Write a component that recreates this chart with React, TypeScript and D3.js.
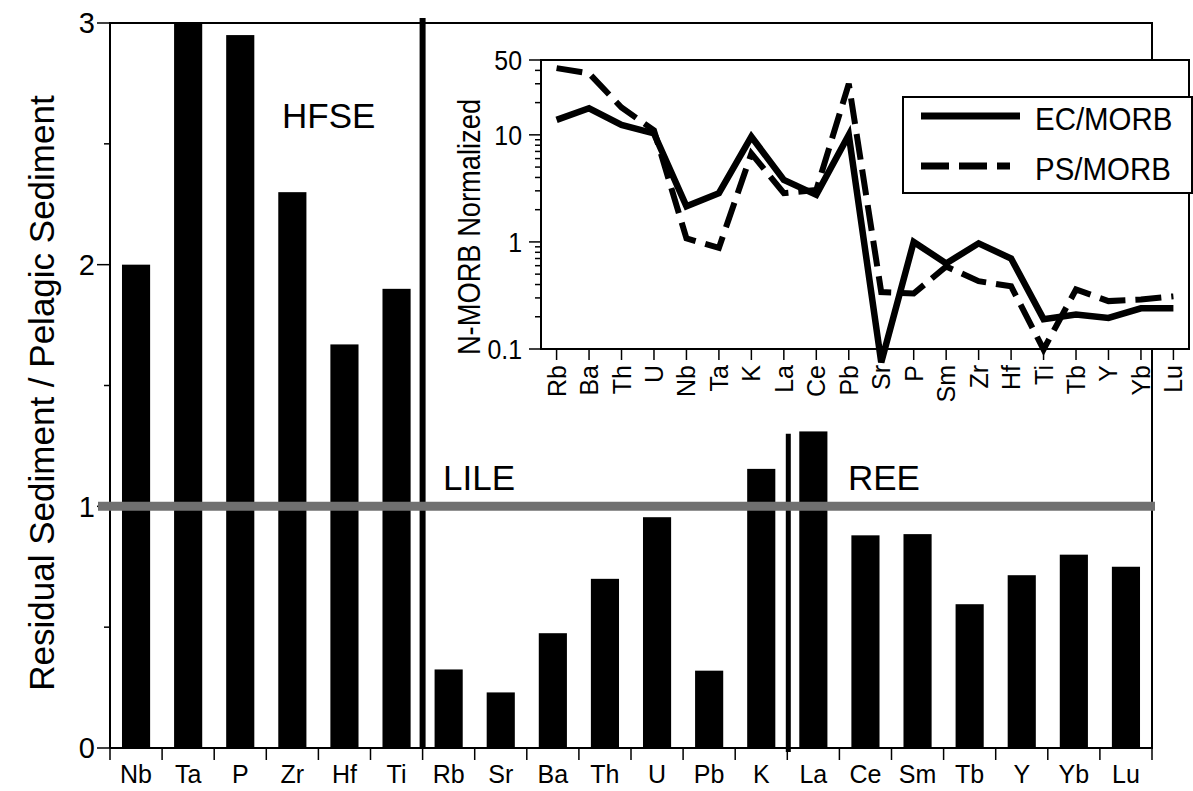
import React, { useEffect, useRef } from 'react';
import * as d3 from 'd3';

// main bar chart: residual sediment / pelagic sediment
const barElements = ['Nb', 'Ta', 'P', 'Zr', 'Hf', 'Ti', 'Rb', 'Sr', 'Ba', 'Th', 'U', 'Pb', 'K', 'La', 'Ce', 'Sm', 'Tb', 'Y', 'Yb', 'Lu'];
const barValues = [2.0, 3.0, 2.95, 2.3, 1.67, 1.9, 0.325, 0.23, 0.475, 0.7, 0.955, 0.32, 1.155, 1.31, 0.88, 0.885, 0.595, 0.715, 0.8, 0.75];
const mainTicks = [0, 1, 2, 3];
const mainMinorTicks = [0.5, 1.5, 2.5];
const groupLabels = ['HFSE', 'LILE', 'REE'];

// inset: N-MORB normalized spider diagram
const insetElements = ['Rb', 'Ba', 'Th', 'U', 'Nb', 'Ta', 'K', 'La', 'Ce', 'Pb', 'Sr', 'P', 'Sm', 'Zr', 'Hf', 'Ti', 'Tb', 'Y', 'Yb', 'Lu'];
const ecMorb = [13.8, 17.7, 12.4, 10.3, 2.15, 2.85, 9.6, 3.8, 2.75, 10, 0.075, 1.0, 0.63, 0.97, 0.7, 0.19, 0.21, 0.195, 0.24, 0.24];
const psMorb = [42, 37.5, 18, 11, 1.08, 0.88, 6.7, 2.85, 3.05, 30, 0.34, 0.33, 0.59, 0.43, 0.385, 0.099, 0.36, 0.28, 0.29, 0.31];
const insetTicks = [0.1, 1, 10, 50];
const insetMinorTicks = [0.2, 0.3, 0.4, 0.5, 0.6, 0.7, 0.8, 0.9, 2, 3, 4, 5, 6, 7, 8, 9, 20, 30, 40];
const seriesNames = ['EC/MORB', 'PS/MORB'];

const FONT = '"Liberation Sans", Arial, Helvetica, sans-serif';

// squeeze text horizontally (the inset uses a narrow typeface)
function condense(sel: any, f: number) {
  sel.each(function (this: SVGTextElement) {
    const w = this.getComputedTextLength();
    d3.select(this).attr('textLength', w * f).attr('lengthAdjust', 'spacingAndGlyphs');
  });
}

function Chart() {
  const ref = useRef<SVGSVGElement>(null);

  useEffect(() => {
    const svg = d3.select(ref.current);
    svg.selectAll('*').remove();

    const left = 110, right = 1152, top = 23, bottom = 748;

    const x = d3.scaleBand<string>().domain(barElements).range([left, right]).padding(0);
    const y = d3.scaleLinear().domain([0, 3]).range([bottom, top]);
    const bw = x.bandwidth();
    const barW = bw * 0.54;

    // bars
    svg.append('g')
      .selectAll('rect')
      .data(barElements)
      .enter()
      .append('rect')
      .attr('x', d => (x(d) as number) + (bw - barW) / 2)
      .attr('y', (d, i) => y(barValues[i]))
      .attr('width', barW)
      .attr('height', (d, i) => bottom - y(barValues[i]))
      .attr('fill', '#000');

    // frame
    svg.append('path')
      .attr('d', `M${left},${bottom}V${top}H${right}V${bottom}H${left}`)
      .attr('stroke', '#000').attr('stroke-width', 2).attr('fill', 'none');

    // y ticks
    svg.append('g').selectAll('line').data(mainTicks).enter().append('line')
      .attr('x1', left - 13).attr('x2', left).attr('y1', d => y(d)).attr('y2', d => y(d))
      .attr('stroke', '#000').attr('stroke-width', 1.5);
    svg.append('g').selectAll('line').data(mainMinorTicks).enter().append('line')
      .attr('x1', left - 6).attr('x2', left).attr('y1', d => y(d)).attr('y2', d => y(d))
      .attr('stroke', '#000').attr('stroke-width', 1.5);
    svg.append('g').selectAll('text').data(mainTicks).enter().append('text')
      .attr('x', left - 15).attr('y', d => y(d)).attr('dy', '0.36em')
      .attr('text-anchor', 'end').style('font-family', FONT).style('font-size', '29px')
      .text(d => d);

    // x ticks at category boundaries
    const bounds = barElements.map(d => x(d) as number).concat([right]);
    svg.append('g').selectAll('line').data(bounds).enter().append('line')
      .attr('x1', d => d).attr('x2', d => d).attr('y1', bottom).attr('y2', bottom + 12)
      .attr('stroke', '#000').attr('stroke-width', 1.5);
    svg.append('g').selectAll('text').data(barElements).enter().append('text')
      .attr('x', d => (x(d) as number) + bw / 2).attr('y', 783)
      .attr('text-anchor', 'middle').style('font-family', FONT).style('font-size', '25px')
      .text(d => d);

    // group separators
    svg.append('line')
      .attr('x1', x('Rb') as number).attr('x2', x('Rb') as number)
      .attr('y1', top - 5).attr('y2', bottom)
      .attr('stroke', '#000').attr('stroke-width', 6);
    svg.append('line')
      .attr('x1', (x('La') as number) + 1).attr('x2', (x('La') as number) + 1)
      .attr('y1', y(1.3)).attr('y2', bottom + 4)
      .attr('stroke', '#000').attr('stroke-width', 5);

    // reference line at ratio 1
    svg.append('line')
      .attr('x1', left - 12).attr('x2', right + 3).attr('y1', y(1)).attr('y2', y(1))
      .attr('stroke', '#707070').attr('stroke-width', 9);

    // group labels
    const groupPos = [[282, 128], [443, 490], [848, 490]];
    svg.append('g').selectAll('text').data(groupLabels).enter().append('text')
      .attr('x', (d, i) => groupPos[i][0]).attr('y', (d, i) => groupPos[i][1])
      .style('font-family', FONT).style('font-size', '35px')
      .text(d => d);

    // y axis title
    svg.append('text')
      .attr('transform', `translate(42,393) rotate(-90)`)
      .attr('dy', '0.35em').attr('text-anchor', 'middle')
      .style('font-family', FONT).style('font-size', '35px')
      .text('Residual Sediment / Pelagic Sediment');

    // ---------- inset ----------
    const iL = 541, iR = 1189, iT = 60, iB = 349;
    const ix = d3.scalePoint<string>().domain(insetElements).range([iL, iR]).padding(0.48);
    const iy = d3.scaleLog().domain([0.1, 50]).range([iB, iT]);

    svg.append('rect')
      .attr('x', iL).attr('y', iT).attr('width', iR - iL).attr('height', iB - iT)
      .attr('fill', '#fff').attr('stroke', '#000').attr('stroke-width', 2);

    svg.append('g').selectAll('line').data(insetTicks).enter().append('line')
      .attr('x1', iL - 12).attr('x2', iL).attr('y1', d => iy(d)).attr('y2', d => iy(d))
      .attr('stroke', '#000').attr('stroke-width', 1.5);
    svg.append('g').selectAll('line').data(insetMinorTicks).enter().append('line')
      .attr('x1', iL - 6).attr('x2', iL).attr('y1', d => iy(d)).attr('y2', d => iy(d))
      .attr('stroke', '#000').attr('stroke-width', 1.5);
    svg.append('g').selectAll('text').data(insetTicks).enter().append('text')
      .attr('x', iL - 19).attr('y', d => iy(d)).attr('dy', '0.36em')
      .attr('text-anchor', 'end').style('font-family', FONT).style('font-size', '27px')
      .text(d => d)
      .call(condense, 0.92);

    svg.append('g').selectAll('line').data(insetElements).enter().append('line')
      .attr('x1', d => ix(d) as number).attr('x2', d => ix(d) as number)
      .attr('y1', iB).attr('y2', iB + 11)
      .attr('stroke', '#000').attr('stroke-width', 1.5);
    svg.append('g').selectAll('text').data(insetElements).enter().append('text')
      .attr('transform', d => `translate(${ix(d)},${iB + 16}) rotate(-90)`)
      .attr('dy', '0.36em').attr('text-anchor', 'end')
      .style('font-family', FONT).style('font-size', '25px')
      .text(d => d);

    svg.append('text')
      .attr('transform', `translate(469,227) rotate(-90)`)
      .attr('dy', '0.35em').attr('text-anchor', 'middle')
      .style('font-family', FONT).style('font-size', '31px')
      .text('N-MORB Normalized')
      .call(condense, 0.88);

    const line = d3.line<number>()
      .x((d, i) => ix(insetElements[i]) as number)
      .y(d => iy(d));

    svg.append('path').datum(psMorb).attr('d', line)
      .attr('fill', 'none').attr('stroke', '#000').attr('stroke-width', 6)
      .attr('stroke-dasharray', '26,10');
    svg.append('path').datum(ecMorb).attr('d', line)
      .attr('fill', 'none').attr('stroke', '#000').attr('stroke-width', 6.5)
      .attr('stroke-linejoin', 'miter');

    // legend
    const lg = svg.append('g');
    lg.append('rect').attr('x', 903).attr('y', 97).attr('width', 289).attr('height', 96)
      .attr('fill', '#fff').attr('stroke', '#000').attr('stroke-width', 2);
    seriesNames.forEach((name, i) => {
      const ly = 118 + i * 50;
      lg.append('line').attr('x1', 921).attr('x2', i === 1 ? 1010 : 1020).attr('y1', ly - 2).attr('y2', ly - 2)
        .attr('stroke', '#000').attr('stroke-width', 7)
        .attr('stroke-dasharray', i === 1 ? '28,10' : null);
      lg.append('text').attr('x', 1035).attr('y', ly).attr('dy', '0.36em')
        .style('font-family', FONT).style('font-size', '32px')
        .text(name)
        .call(condense, 0.92);
    });
  }, []);

  return <svg ref={ref} width={1193} height={791} style={{ position: 'absolute', left: 0, top: 0, background: '#fff' }} />;
}

export default function App() {
  return <Chart />;
}
